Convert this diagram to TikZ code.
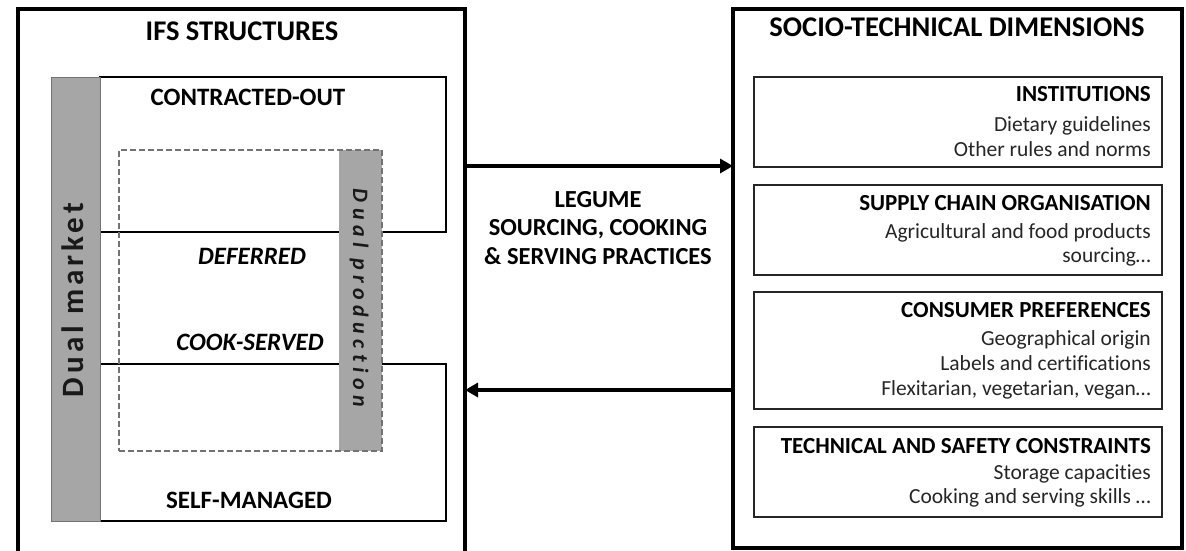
\documentclass[tikz,border=0pt]{standalone}
\usepackage{fontspec}
\setmainfont[Ligatures={NoCommon}]{Carlito}
\newfontfamily\dmfont[LetterSpace=13,Ligatures={NoCommon}]{Carlito}
\newfontfamily\dpfont[LetterSpace=25,Ligatures={NoCommon}]{Carlito}
\usetikzlibrary{arrows.meta}
\definecolor{bargray}{HTML}{A6A6A6}
\definecolor{bodytext}{HTML}{262626}
\begin{document}
\begin{tikzpicture}[x=1pt,y=-1pt,
  box/.style={inner sep=0pt, outer sep=0pt, anchor=north west},
  outerbox/.style={box, draw=black, line width=3.2pt},
  innerbox/.style={box, draw=black, line width=1.5pt},
  dimbox/.style={box, draw=black!85, line width=1.1pt},
  bar/.style={box, fill=bargray},
  title/.style={anchor=base, inner sep=0pt, font=\fontsize{28.5}{32}\selectfont\bfseries},
  struct/.style={anchor=base, inner sep=0pt, font=\fontsize{25}{29}\selectfont\bfseries},
  structit/.style={struct, font=\fontsize{25}{29}\selectfont\bfseries\itshape},
  head/.style={anchor=base east, inner sep=0pt, font=\fontsize{23}{27}\selectfont\bfseries},
  body/.style={anchor=base east, inner sep=0pt, text=bodytext, font=\fontsize{21.5}{25}\selectfont},
  arr/.style={line width=3.6pt, -{Triangle[length=13pt,width=14pt]}}
]
\useasboundingbox (0,0) rectangle (1186,551);
\clip (0,0) rectangle (1186,551);
\fill[white] (0,0) rectangle (1186,551);

% outer panels
\node[outerbox, minimum width=447pt, minimum height=560pt] (ifs) at (18,9) {};
\node[outerbox, minimum width=449pt, minimum height=539pt] (std) at (733,9) {};

% IFS structures
\node[innerbox, minimum width=346pt, minimum height=155pt] (contr) at (100,77) {};
\node[innerbox, minimum width=346pt, minimum height=157pt] (self) at (100,364) {};
\node[bar, draw=black!55, line width=0.8pt, minimum width=49pt, minimum height=444pt] (dmarket) at (51,77) {};
\node[bar, minimum width=43pt, minimum height=301pt] (dprod) at (339,150) {};
\node[box, draw=black!55, line width=2.4pt, dash pattern=on 6pt off 3pt, minimum width=263pt, minimum height=301pt] (dashed) at (119,150) {};

\node[title] (ifstitle) at (242,41) {IFS STRUCTURES};
\node[struct] (tcontr) at (248,105) {CONTRACTED-OUT};
\node[structit] (tdef) at (252,264) {DEFERRED};
\node[structit] (tcook) at (250,350) {COOK-SERVED};
\node[struct] (tself) at (249,508) {SELF-MANAGED};
\node[rotate=90, inner sep=0pt, text=black!90, font=\fontsize{31}{33}\dmfont\bfseries] (tdm) at (73,300) {Dual market};
\node[rotate=-90, inner sep=0pt, text=black!90, font=\fontsize{22}{24}\dpfont\bfseries\itshape] (tdp) at (359,298) {Dual production};

% centre
\node[anchor=base, inner sep=0pt, align=center, font=\fontsize{24.5}{28.5}\selectfont\bfseries] (practices) at (598,264)
  {LEGUME\\SOURCING, COOKING\\\& SERVING PRACTICES};
\draw[arr] (ifs.east |- 0,166) -- (std.west |- 0,166);
\draw[arr] (std.west |- 0,390) -- (ifs.east |- 0,390);

% socio-technical dimensions
\node[title] (sttitle) at (957,37) {SOCIO-TECHNICAL DIMENSIONS};
\node[dimbox, minimum width=408pt, minimum height=90pt] (inst) at (754,77) {};
\node[dimbox, minimum width=408pt, minimum height=90pt] (supply) at (754,185) {};
\node[dimbox, minimum width=408pt, minimum height=117pt] (cons) at (754,292) {};
\node[dimbox, minimum width=408pt, minimum height=90pt] (tech) at (754,427) {};

\node[head] (h1) at (1151,102) {INSTITUTIONS};
\node[body] (b11) at (1151,131) {Dietary guidelines};
\node[body] (b12) at (1151,156) {Other rules and norms};

\node[head] (h2) at (1151,210) {SUPPLY CHAIN ORGANISATION};
\node[body] (b21) at (1151,238) {Agricultural and food products};
\node[body] (b22) at (1151,262) {sourcing\dots};

\node[head] (h3) at (1151,317) {CONSUMER PREFERENCES};
\node[body] (b31) at (1151,345) {Geographical origin};
\node[body] (b32) at (1151,370) {Labels and certifications};
\node[body] (b33) at (1151,395) {Flexitarian, vegetarian, vegan\dots};

\node[head] (h4) at (1151,453) {TECHNICAL AND SAFETY CONSTRAINTS};
\node[body] (b41) at (1151,479) {Storage capacities};
\node[body] (b42) at (1151,503) {Cooking and serving skills \dots};
\end{tikzpicture}
\end{document}
